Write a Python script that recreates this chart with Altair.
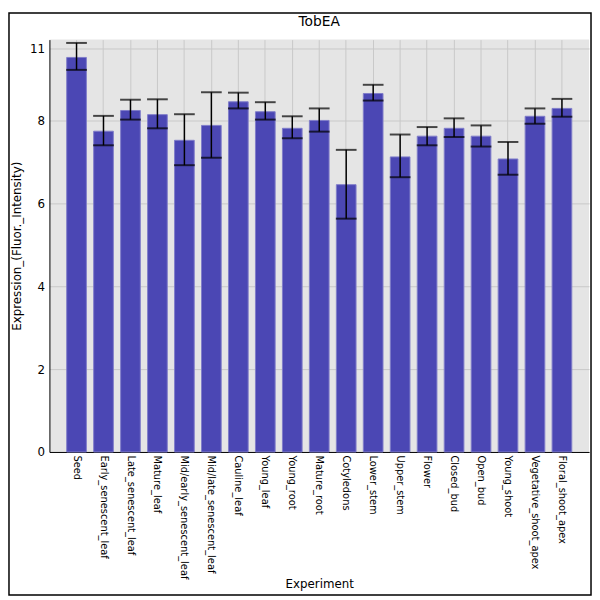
import altair as alt
import pandas as pd

categories = ["Seed", "Early_senescent_leaf", "Late_senescent_leaf", "Mature_leaf",
              "Mid/early_senescent_leaf", "Mid/late_senescent_leaf", "Cauline_leaf",
              "Young_leaf", "Young_root", "Mature_root", "Cotyledons", "Lower_stem",
              "Upper_stem", "Flower", "Closed_bud", "Open_bud", "Young_shoot",
              "Vegetative_shoot_apex", "Floral_shoot_apex"]
values = [9.52, 7.74, 8.24, 8.14, 7.52, 7.88, 8.45, 8.21, 7.81, 8.00, 6.45, 8.65,
          7.12, 7.62, 7.81, 7.62, 7.07, 8.10, 8.29]
err_high = [9.87, 8.11, 8.50, 8.51, 8.15, 8.68, 8.67, 8.44, 8.10, 8.29, 7.29, 8.86,
            7.66, 7.84, 8.05, 7.88, 7.48, 8.29, 8.52]
err_low = [9.22, 7.40, 8.02, 7.81, 6.92, 7.10, 8.29, 8.02, 7.57, 7.73, 5.63, 8.48,
           6.63, 7.40, 7.60, 7.37, 6.69, 7.92, 8.09]
y_ticks = [0, 2, 4, 6, 8, 9.74]
title_text = "TobEA"

df = pd.DataFrame({"Experiment": categories, "value": values,
                   "hi": err_high, "lo": err_low})

W, H = 547, 418
PL, PT, PR, PB = 42, 28, 3, 146

font = "DejaVu Sans"

x = alt.X("Experiment:N", sort=categories, title="Experiment",
          scale=alt.Scale(paddingInner=0.27, paddingOuter=0.64),
          axis=alt.Axis(labelAngle=90, labelFontSize=10, labelFont=font,
                        titleFont=font, titleFontSize=12, titleFontWeight="normal",
                        titleColor="black", labelColor="black",
                        domainColor="black", ticks=False, labelPadding=3,
                        grid=True, gridColor="#c8c8c8", tickBand="center",
                        titlePadding=0, labelLimit=200, labelAlign="left",
                        labelBaseline="middle"))
y_scale = alt.Scale(domain=[0, 9.95], nice=False, zero=True)
y_axis = alt.Axis(values=y_ticks, labelExpr="datum.value > 9 ? '11' : datum.label",
                  labelFontSize=12, labelFont=font, labelColor="black",
                  titleFont=font, titleFontSize=12, titleFontWeight="normal",
                  titleColor="black", domainColor="black", ticks=False,
                  gridColor="#c8c8c8", labelPadding=5, titlePadding=6)

base = alt.Chart(df)

bars = base.mark_bar(color="#4b47b4", stroke="#807dc9", strokeWidth=1).encode(
    x=x,
    y=alt.Y("value:Q", scale=y_scale, axis=y_axis,
            title="Expression_(Fluor._Intensity)"),
)
rules = base.mark_rule(color="black", strokeWidth=1.5).encode(
    x=alt.X("Experiment:N", sort=categories),
    y="lo:Q", y2="hi:Q")
cap_hi = base.mark_tick(color="black", thickness=2, size=21).encode(
    x=alt.X("Experiment:N", sort=categories), y="hi:Q")
cap_lo = base.mark_tick(color="black", thickness=2, size=21).encode(
    x=alt.X("Experiment:N", sort=categories), y="lo:Q")

one = pd.DataFrame({"t": [title_text]})
frame = alt.Chart(one).mark_rect(
    fill="transparent", stroke="black", strokeWidth=1.5, clip=False).encode(
    x=alt.value(-PL + 1), x2=alt.value(W + PR - 1),
    y=alt.value(-PT + 1), y2=alt.value(H + PB - 1))
title = alt.Chart(one).mark_text(
    font=font, fontSize=14, color="black", baseline="middle", align="center",
    clip=False).encode(
    text="t:N", x=alt.value(W / 2), y=alt.value(-18))

chart = alt.layer(bars, rules, cap_hi, cap_lo, frame, title).properties(
    width=W, height=H,
    autosize=alt.AutoSizeParams(type="none"),
    padding={"left": PL, "top": PT, "right": PR, "bottom": PB},
    background="white",
).configure_view(fill="#e5e5e5", strokeWidth=0)

chart.save("out.html", embed_options={"renderer": "svg", "actions": False})
